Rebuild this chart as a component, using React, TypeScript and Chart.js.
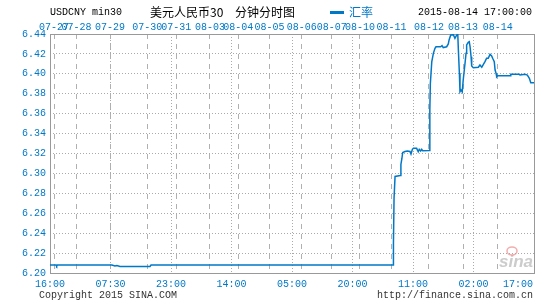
import React, { useEffect, useRef } from "react";
import { Chart, registerables } from "chart.js";

Chart.register(...registerables);

// ---- data ----
const timeLabels = ["16:00", "07:30", "23:00", "14:00", "05:00", "20:00", "11:00", "02:00", "17:00"];
const dayLabels = ["07-27", "07-28", "07-29", "07-30", "07-31", "08-03", "08-04", "08-05", "08-06", "08-07", "08-10", "08-11", "08-12", "08-13", "08-14"];
const dayIdx = [2, 13.2, 29.8, 48.2, 62.6, 79.3, 93.4, 108.8, 124.8, 139.7, 153.7, 169.4, 187.9, 204.8, 222];
const xIdx = [
  0, 3.0, 3.3, 3.6, 30.7, 32.2, 33.2, 34.7, 49.6, 50.1,
  170.2, 170.3, 170.6, 171.1, 173.7, 174.0, 174.5, 174.9, 176.0, 177.2,
  178.5, 179.0, 179.7, 180.2, 181.8, 182.6, 183.1, 183.8, 184.3, 184.8,
  188.1, 188.3, 188.4, 188.6, 189.3, 190.1, 190.9, 191.4, 193.7, 194.4,
  195.0, 196.7, 197.5, 197.9, 198.7, 200.0, 200.8, 201.7, 202.2, 202.5,
  203.0, 203.3, 203.8, 204.4, 204.9, 205.8, 206.3, 206.6, 207.4, 207.9,
  208.3, 208.8, 209.1, 209.9, 212.4, 213.2, 214.1, 214.9, 215.7, 216.5,
  217.3, 218.2, 219.0, 219.5, 220.3, 220.7, 221.2, 221.5, 221.9, 228.1,
  228.5, 232.7, 233.1, 235.5, 236.7, 237.7, 238.4, 240,
];
const rate = [
  6.208, 6.208, 6.207, 6.208, 6.208, 6.207, 6.2075, 6.2065, 6.2065, 6.208,
  6.208, 6.230, 6.275, 6.297, 6.298, 6.309, 6.315, 6.321, 6.322, 6.3225,
  6.322, 6.3195, 6.3242, 6.3252, 6.3252, 6.3218, 6.3242, 6.3225, 6.3242, 6.3228,
  6.323, 6.345, 6.364, 6.390, 6.412, 6.4206, 6.4256, 6.4272, 6.4272, 6.4283,
  6.4264, 6.4272, 6.430, 6.434, 6.439, 6.4393, 6.4357, 6.439, 6.440, 6.424,
  6.4005, 6.382, 6.3838, 6.3818, 6.3938, 6.4106, 6.4206, 6.429, 6.4317, 6.4323,
  6.4272, 6.4172, 6.4079, 6.4062, 6.4066, 6.4089, 6.4066, 6.4096, 6.4122, 6.4156,
  6.4156, 6.4196, 6.4179, 6.4156, 6.4122, 6.4038, 6.4005, 6.3971, 6.3981, 6.3981,
  6.3995, 6.3995, 6.3988, 6.3995, 6.3988, 6.3955, 6.391, 6.391,
];
const yMin = 6.2;
const yMax = 6.44;
const yStep = 0.02;

const BLUE = "rgb(0,120,200)";
const MONO = '"Liberation Mono", "DejaVu Sans Mono", monospace';
const CJK = '"Noto Sans CJK SC", sans-serif';

const decoPlugin = {
  id: "deco",
  beforeDatasetsDraw(chart: any) {
    const { ctx, chartArea: a } = chart;
    ctx.save();
    // sina watermark
    ctx.fillStyle = "#cccccc";
    ctx.font = 'italic bold 17px "Liberation Sans", sans-serif';
    ctx.textAlign = "right";
    ctx.textBaseline = "alphabetic";
    ctx.fillText("sina", a.right - 1, a.bottom - 6);
    ctx.strokeStyle = "rgba(235,140,140,0.7)";
    ctx.lineWidth = 1.5;
    ctx.beginPath();
    ctx.ellipse(a.right - 22, a.bottom - 22, 5, 4, 0, 0, Math.PI * 2);
    ctx.stroke();
    // frame
    ctx.strokeStyle = "#999999";
    ctx.lineWidth = 1;
    ctx.strokeRect(Math.round(a.left) + 0.5, Math.round(a.top) + 0.5, Math.round(a.right - a.left), Math.round(a.bottom - a.top));
    ctx.restore();
  },
  afterDraw(chart: any) {
    const { ctx, width } = chart;
    ctx.save();
    ctx.textBaseline = "middle";
    // header
    ctx.fillStyle = "#000";
    ctx.font = "10px " + MONO;
    ctx.textAlign = "left";
    ctx.fillText("USDCNY min30", 50, 12);
    ctx.font = "12px " + CJK;
    ctx.fillText("美元人民币30", 150, 12);
    ctx.fillText("分钟分时图", 235, 12);
    ctx.fillStyle = BLUE;
    ctx.fillRect(330, 11, 14, 3);
    ctx.fillText("汇率", 349, 12);
    ctx.fillStyle = "#000";
    ctx.font = "10px " + MONO;
    ctx.textAlign = "right";
    ctx.fillText("2015-08-14 17:00:00", 532, 12);
    // bottom time labels from x scale ticks
    const xs = chart.scales.x;
    ctx.fillStyle = BLUE;
    ctx.textAlign = "left";
    xs.ticks.forEach((t: any, i: number) => {
      const label = timeLabels[i];
      if (!label) return;
      const px = xs.getPixelForValue(t.value);
      const w = ctx.measureText(label).width;
      let left = px - w / 2;
      if (left + w > width - 12) left = width - 12 - w;
      ctx.fillText(label, left, 284);
    });
    // footer
    ctx.fillStyle = "#333";
    ctx.textAlign = "left";
    ctx.fillText("Copyright 2015 SINA.COM", 39, 295);
    ctx.textAlign = "right";
    ctx.fillText("http://finance.sina.com.cn", 533, 295);
    ctx.restore();
  },
};

export default function App() {
  const ref = useRef<HTMLCanvasElement | null>(null);
  useEffect(() => {
    document.body.style.margin = "0";
    const canvas = ref.current;
    if (!canvas) return;
    const data = xIdx.map((x, i) => ({ x, y: rate[i] }));
    const chart = new Chart(canvas, {
      type: "line",
      data: {
        datasets: [
          {
            label: "汇率",
            data,
            borderColor: BLUE,
            borderWidth: 1.5,
            pointRadius: 0,
            tension: 0,
            fill: false,
            xAxisID: "x",
            yAxisID: "y",
          },
        ],
      },
      options: {
        animation: false,
        responsive: false,
        maintainAspectRatio: false,
        devicePixelRatio: 1,
        layout: { padding: { left: 0, right: 11, top: 0, bottom: 0 } },
        plugins: { legend: { display: false }, tooltip: { enabled: false }, title: { display: false } },
        scales: {
          x: {
            type: "linear",
            position: "bottom",
            min: 0,
            max: 240,
            ticks: { display: false, stepSize: 30 },
            grid: { color: "#aaaaaa", drawTicks: false, lineWidth: 1 },
            border: { display: false, dash: [1, 2] },
            afterFit: (s: any) => {
              s.height = 27;
              s.paddingLeft = 0;
              s.paddingRight = 0;
            },
          },
          x2: {
            type: "linear",
            position: "top",
            min: 0,
            max: 240,
            afterBuildTicks: (s: any) => {
              s.ticks = dayIdx.map((v) => ({ value: v }));
            },
            ticks: {
              autoSkip: false,
              maxRotation: 0,
              minRotation: 0,
              color: BLUE,
              font: { family: MONO, size: 10 },
              padding: 1,
              callback: (_v: any, i: number) => dayLabels[i],
            },
            grid: { color: "#b0b0b0", drawTicks: false, lineWidth: 1 },
            border: { display: false, dash: [5, 5] },
            afterFit: (s: any) => {
              s.height = 34;
              s.paddingLeft = 0;
              s.paddingRight = 0;
            },
          },
          y: {
            type: "linear",
            position: "left",
            min: yMin,
            max: yMax,
            ticks: {
              stepSize: yStep,
              color: BLUE,
              font: { family: MONO, size: 10 },
              padding: 4,
              callback: (v: any) => Number(v).toFixed(2),
            },
            grid: { color: "#aaaaaa", drawTicks: false, lineWidth: 1 },
            border: { display: false, dash: [1, 2] },
            afterFit: (s: any) => {
              s.width = 50;
              s.paddingTop = 0;
              s.paddingBottom = 0;
            },
          },
        },
      },
      plugins: [decoPlugin],
    } as any);
    return () => chart.destroy();
  }, []);
  return (
    <div style={{ width: 545, height: 300, position: "relative" }}>
      <canvas ref={ref} width={545} height={300} style={{ display: "block", width: 545, height: 300 }} />
    </div>
  );
}
